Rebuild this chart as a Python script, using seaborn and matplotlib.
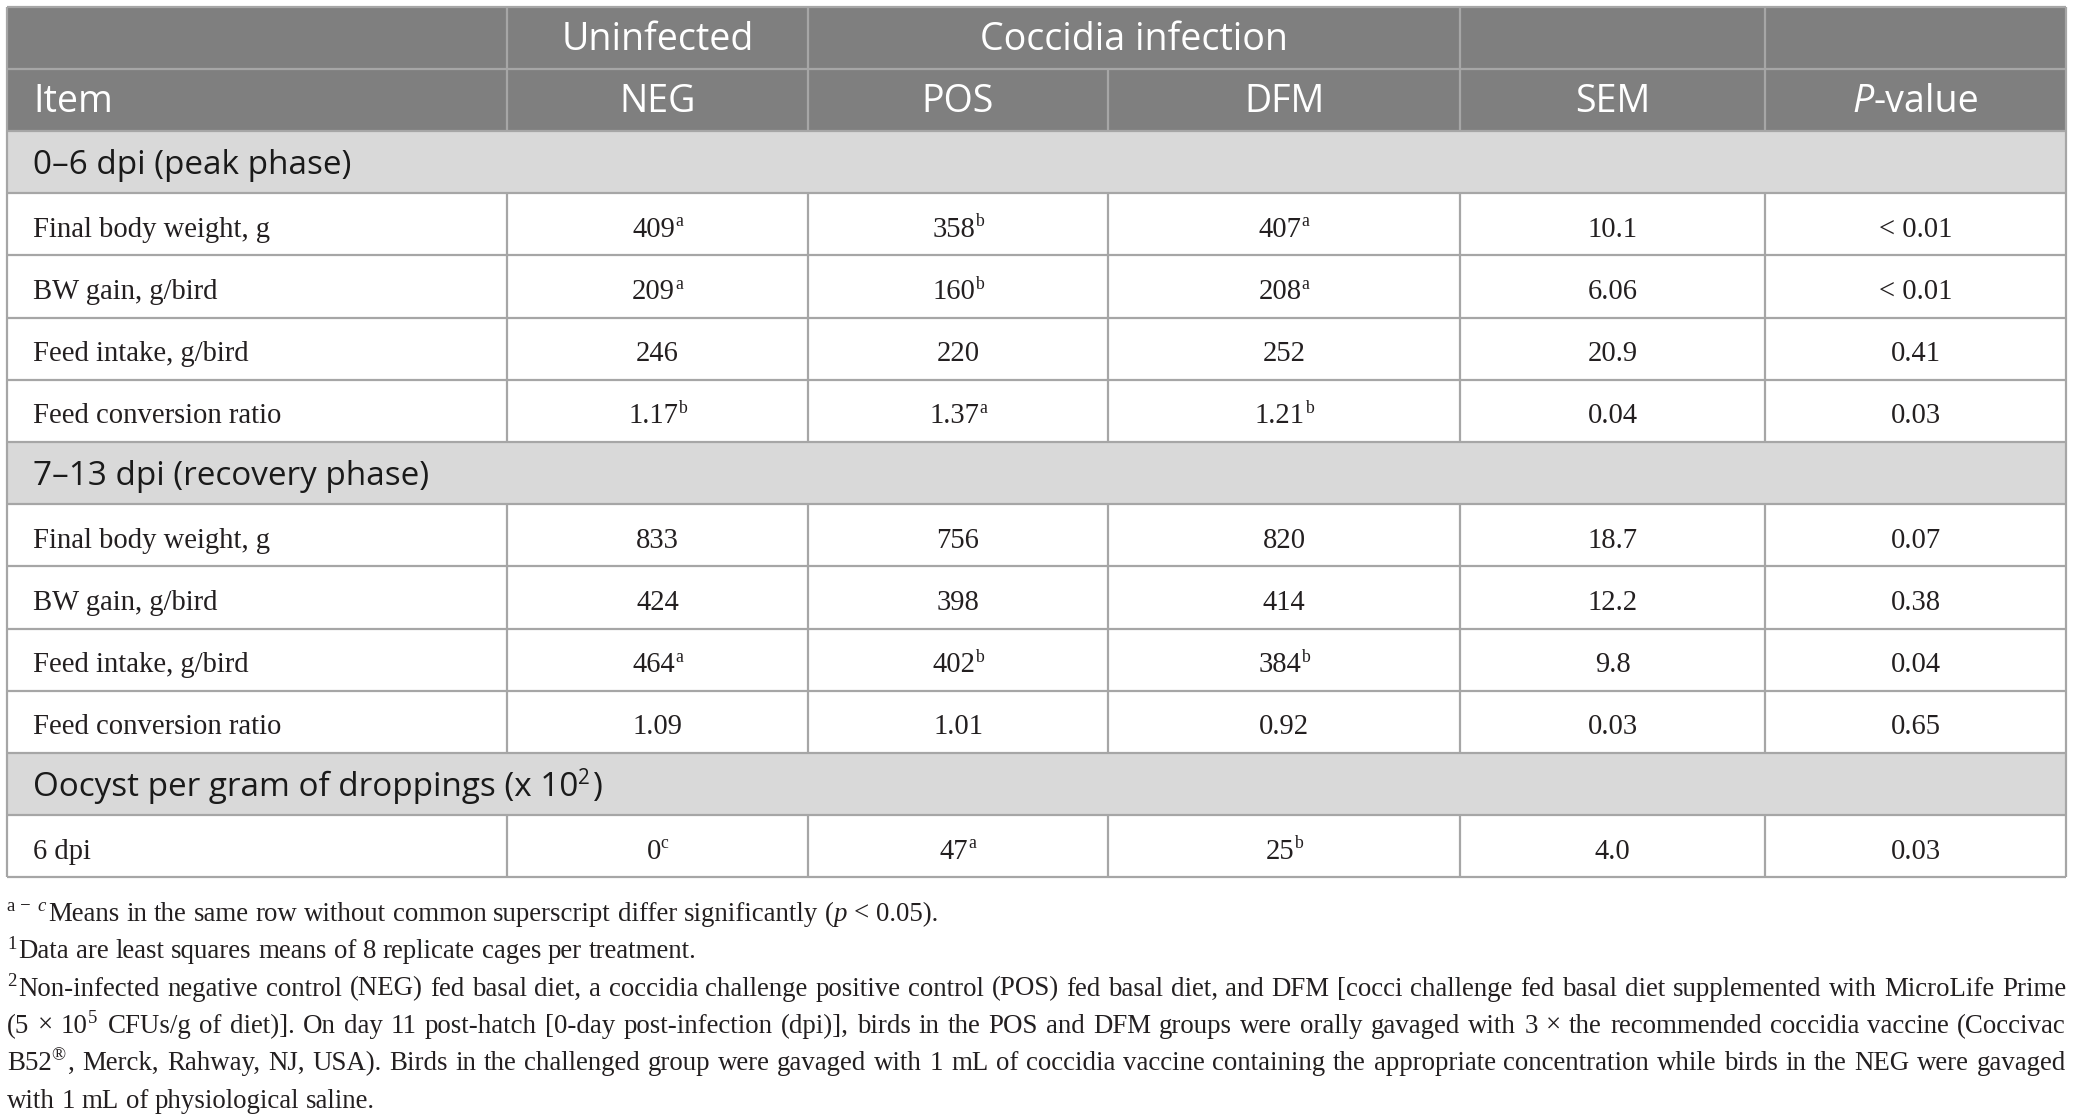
import re
import matplotlib
matplotlib.use("Agg")
import matplotlib.pyplot as plt
import seaborn as sns
from matplotlib.patches import Rectangle

# ---- data ----
groups = ["NEG", "POS", "DFM"]
stat_cols = ["SEM", "{i:P}-value"]
group_header_1 = "Uninfected"
group_header_2 = "Coccidia infection"

section_titles = ["0–6 dpi (peak phase)",
                  "7–13 dpi (recovery phase)",
                  "Oocyst per gram of droppings (x 10{s:2})"]

peak_items = ["Final body weight, g", "BW gain, g/bird", "Feed intake, g/bird", "Feed conversion ratio"]
peak_neg = ["409{s:a}", "209{s:a}", "246", "1.17{s:b}"]
peak_pos = ["358{s:b}", "160{s:b}", "220", "1.37{s:a}"]
peak_dfm = ["407{s:a}", "208{s:a}", "252", "1.21{s:b}"]
peak_sem = ["10.1", "6.06", "20.9", "0.04"]
peak_p = ["< 0.01", "< 0.01", "0.41", "0.03"]

rec_items = ["Final body weight, g", "BW gain, g/bird", "Feed intake, g/bird", "Feed conversion ratio"]
rec_neg = ["833", "424", "464{s:a}", "1.09"]
rec_pos = ["756", "398", "402{s:b}", "1.01"]
rec_dfm = ["820", "414", "384{s:b}", "0.92"]
rec_sem = ["18.7", "12.2", "9.8", "0.03"]
rec_p = ["0.07", "0.38", "0.04", "0.65"]

opg_items = ["6 dpi"]
opg_neg = ["0{s:c}"]
opg_pos = ["47{s:a}"]
opg_dfm = ["25{s:b}"]
opg_sem = ["4.0"]
opg_p = ["0.03"]

footnotes = [
    "{s:a\u00a0−\u00a0}{si:c}Means in the same row without common superscript differ significantly ({i:p} < 0.05).",
    "{s:1}Data are least squares means of 8 replicate cages per treatment.",
    "{s:2}Non-infected negative control (NEG) fed basal diet, a coccidia challenge positive control (POS) fed basal diet, and DFM [cocci challenge fed basal diet supplemented with MicroLife Prime",
    "(5 × 10{s:5} CFUs/g of diet)]. On day 11 post-hatch [0-day post-infection (dpi)], birds in the POS and DFM groups were orally gavaged with 3 × the recommended coccidia vaccine (Coccivac",
    "B52{s:®}, Merck, Rahway, NJ, USA). Birds in the challenged group were gavaged with 1 mL of coccidia vaccine containing the appropriate concentration while birds in the NEG were gavaged",
    "with 1 mL of physiological saline.",
]
justified = [False, False, True, True, True, False]

# ---- style ----
sns.set_theme(style="white")
plt.rcParams['font.family'] = ['Liberation Serif', 'DejaVu Serif']
SANS = ['Open Sans', 'DejaVu Sans']
SERIF = ['Liberation Serif', 'DejaVu Serif']
HEAD_BG = "#7f7f7f"
SECT_BG = "#d9d9d9"
LINE = "#a6a6a6"
INK = "#231f20"

W, H = 2073, 1120
fig = plt.figure(figsize=(W / 100, H / 100), dpi=100)
ax = fig.add_axes([0, 0, 1, 1])
ax.set_xlim(0, W)
ax.set_ylim(H, 0)
ax.axis('off')
renderer = fig.canvas.get_renderer()


def measure(s, family, size, style='normal'):
    t = ax.text(0, 0, s, family=family, fontsize=size, style=style)
    w = t.get_window_extent(renderer).width
    t.remove()
    return w


def fit(s, family, target):
    return 20 * target / measure(s, family, 20)


def parse(s):
    out = []
    for piece in re.split(r'(\{[a-z]+:[^}]*\})', s):
        if not piece:
            continue
        m = re.fullmatch(r'\{([a-z]+):([^}]*)\}', piece)
        out.append((m.group(2), m.group(1)) if m else (piece, 'n'))
    return out


def words_of(s):
    words = [[]]
    for text, kind in parse(s):
        for i, p in enumerate(text.split(' ')):
            if i > 0:
                words.append([])
            if p:
                words[-1].append((p, kind))
    return [w for w in words if w]


def props(kind, size, sup_scale=0.62):
    fs = size * sup_scale if 's' in kind else size
    st = 'italic' if 'i' in kind else 'normal'
    rp = size * 100 / 72 * 0.36 if 's' in kind else 0
    return fs, st, rp


def width_runs(runs, family, size, sup_scale=0.62):
    tot = 0
    for text, kind in runs:
        fs, st, _ = props(kind, size, sup_scale)
        tot += measure(text, family, fs, st)
    return tot


def draw_runs(x, y, runs, family, size, color, ha='left', sup_scale=0.62):
    w = width_runs(runs, family, size, sup_scale)
    if ha == 'center':
        x -= w / 2
    for text, kind in runs:
        fs, st, rp = props(kind, size, sup_scale)
        ax.text(x, y - rp, text, family=family, fontsize=fs, style=st,
                color=color, va='baseline', ha='left')
        x += measure(text, family, fs, st)
        if 's' in kind:
            x += size * 0.12
    return w


body_fs = fit("Final body weight, g", SERIF, 237)
head_fs = fit("Uninfected", SANS, 192)
sect_fs = fit("7–13 dpi (recovery phase)", SANS, 395)
foot_fs = fit("Data are least squares means of 8 replicate cages per treatment.", SERIF, 680)

# ---- layout ----
col_x = [7, 507, 808, 1108, 1460, 1765, 2066]
row_y = [6.5 + 62.2 * k for k in range(15)]
centers = [(col_x[i] + col_x[i + 1]) / 2 for i in range(len(col_x) - 1)]
left_pad = 26

blocks = [
    (peak_items, peak_neg, peak_pos, peak_dfm, peak_sem, peak_p),
    (rec_items, rec_neg, rec_pos, rec_dfm, rec_sem, rec_p),
    (opg_items, opg_neg, opg_pos, opg_dfm, opg_sem, opg_p),
]
kinds = ['h1', 'h2']
for blk in blocks:
    kinds += ['sec'] + ['data'] * len(blk[0])

# backgrounds
for r, k in enumerate(kinds):
    top, bot = row_y[r], row_y[r + 1]
    fc = HEAD_BG if k in ('h1', 'h2') else SECT_BG if k == 'sec' else 'white'
    ax.add_patch(Rectangle((col_x[0], top), col_x[-1] - col_x[0], bot - top, fc=fc, ec='none', zorder=0))

# lines
ax.hlines(row_y, col_x[0], col_x[-1], color=LINE, lw=1.6, zorder=2)
ax.vlines([col_x[0], col_x[-1]], row_y[0], row_y[-1], color=LINE, lw=1.6, zorder=2)
for r, k in enumerate(kinds):
    top, bot = row_y[r], row_y[r + 1]
    if k == 'h1':
        xs = [col_x[1], col_x[2], col_x[4], col_x[5]]
    elif k in ('h2', 'data'):
        xs = col_x[1:-1]
    else:
        xs = []
    if xs:
        ax.vlines(xs, top, bot, color=LINE, lw=1.6, zorder=2)


def base(r):
    return row_y[r] + 0.70 * (row_y[r + 1] - row_y[r])


# header text
draw_runs(centers[1], base(0), parse(group_header_1), SANS, head_fs, 'white', 'center')
draw_runs((col_x[2] + col_x[4]) / 2, base(0), parse(group_header_2), SANS, head_fs, 'white', 'center')
draw_runs(col_x[0] + left_pad, base(1), parse("Item"), SANS, head_fs, 'white')
for i, lab in enumerate(groups + stat_cols):
    draw_runs(centers[i + 1], base(1), parse(lab), SANS, head_fs, 'white', 'center')

# body
r = 2
for title, blk in zip(section_titles, blocks):
    draw_runs(col_x[0] + left_pad, base(r), parse(title), SANS, sect_fs, '#1a1a1a')
    r += 1
    items, *cols = blk
    for j, item in enumerate(items):
        draw_runs(col_x[0] + left_pad, base(r), parse(item), SERIF, body_fs, INK)
        for c, col in enumerate(cols):
            draw_runs(centers[c + 1], base(r), parse(col[j]), SERIF, body_fs, INK, 'center')
        r += 1

# footnotes
space_w = measure("x x", SERIF, foot_fs) - measure("xx", SERIF, foot_fs)
for k, (line, just) in enumerate(zip(footnotes, justified)):
    y = 921 + 37.3 * k
    words = words_of(line)
    widths = [width_runs(w, SERIF, foot_fs, 0.7) + foot_fs * 0.12 * sum('s' in kd for _, kd in w)
              for w in words]
    gap = (col_x[-1] - col_x[0] - sum(widths)) / (len(words) - 1) if just else space_w
    x = col_x[0]
    for w, wd in zip(words, widths):
        draw_runs(x, y, w, SERIF, foot_fs, INK, sup_scale=0.7)
        x += wd + gap

fig.savefig("out.png", dpi=100, facecolor='white')
